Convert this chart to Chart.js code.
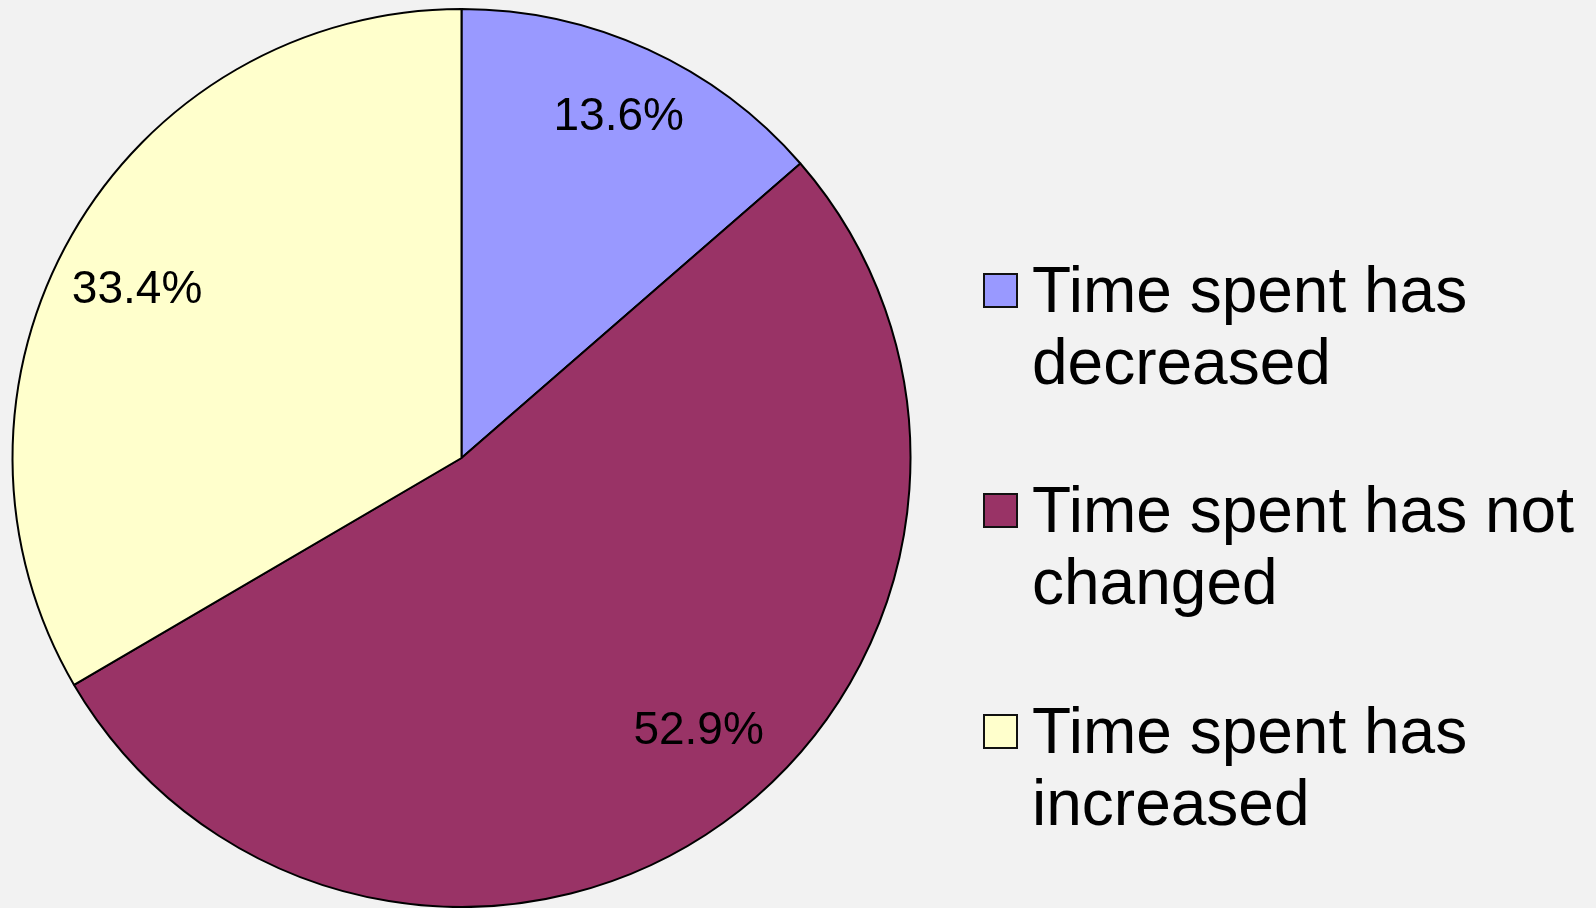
<!DOCTYPE html>
<html>
<head>
<meta charset="utf-8">
<script src="https://cdn.jsdelivr.net/npm/chart.js@4"></script>
<style>
  html, body { margin: 0; padding: 0; background: #f2f2f2; overflow: hidden; }
  #wrap { position: relative; width: 1596px; height: 908px; overflow: hidden; }
  #legend { position: absolute; left: 0; top: 0; }
  .item { position: absolute; left: 983px; width: 612px; font-family: "Liberation Sans", Arial, sans-serif;
          font-size: 64px; line-height: 72px; color: #000; }
  .box { position: absolute; left: 0; width: 31px; height: 31px; border: 2px solid #111; }
  .txt { position: absolute; left: 49px; width: 570px; }
</style>
</head>
<body>
<div id="wrap">
  <canvas id="pieChart"></canvas>
  <div id="legend"></div>
</div>
<script>
// datos del grafico
var categories = ['Time spent has decreased', 'Time spent has not changed', 'Time spent has increased'];
var values = [13.6, 52.9, 33.4];
var colors = ['#9999ff', '#993366', '#ffffcc'];

// ajuste fino de las etiquetas: [fraccion del radio, desplazamiento en grados]
var labelPlace = [[0.844, 0], [0.799, -5.7], [0.817, -2.0]];

// etiquetas de porcentaje dentro de cada sector
var pctLabels = {
    id: 'pctLabels',
    afterDatasetsDraw: function(chart) {
        var ctx = chart.ctx;
        var meta = chart.getDatasetMeta(0);
        ctx.save();
        ctx.font = '46px "Liberation Sans", Arial, sans-serif';
        ctx.fillStyle = '#000';
        ctx.textAlign = 'center';
        ctx.textBaseline = 'alphabetic';
        meta.data.forEach(function(arc, i) {
            var mid = (arc.startAngle + arc.endAngle) / 2 + labelPlace[i][1] * Math.PI / 180;
            var r = arc.outerRadius * labelPlace[i][0];
            var x = arc.x + Math.cos(mid) * r;
            var y = arc.y + Math.sin(mid) * r;
            ctx.fillText(values[i].toFixed(1) + '%', x, y + 46 * 0.358);
        });
        ctx.restore();
    }
};

var ctx = document.getElementById('pieChart').getContext('2d');
new Chart(ctx, {
    type: 'pie',
    data: {
        labels: categories,
        datasets: [{
            data: values,
            backgroundColor: colors,
            borderColor: '#000',
            borderWidth: 2
        }]
    },
    options: {
        responsive: true,
        maintainAspectRatio: false,
        animation: false,
        layout: { padding: { left: 11, top: 8, right: 684, bottom: 0 } },
        plugins: {
            legend: { display: false },
            tooltip: { enabled: false }
        }
    },
    plugins: [pctLabels]
});

// leyenda en HTML
var legend = document.getElementById('legend');
categories.forEach(function(name, i) {
    var item = document.createElement('div');
    item.className = 'item';
    item.style.top = (253.8 + i * 220.5) + 'px';
    var box = document.createElement('div');
    box.className = 'box';
    box.style.top = '19px';
    box.style.background = colors[i];
    var txt = document.createElement('div');
    txt.className = 'txt';
    txt.textContent = name;
    item.appendChild(box);
    item.appendChild(txt);
    legend.appendChild(item);
});
</script>
</body>
</html>
